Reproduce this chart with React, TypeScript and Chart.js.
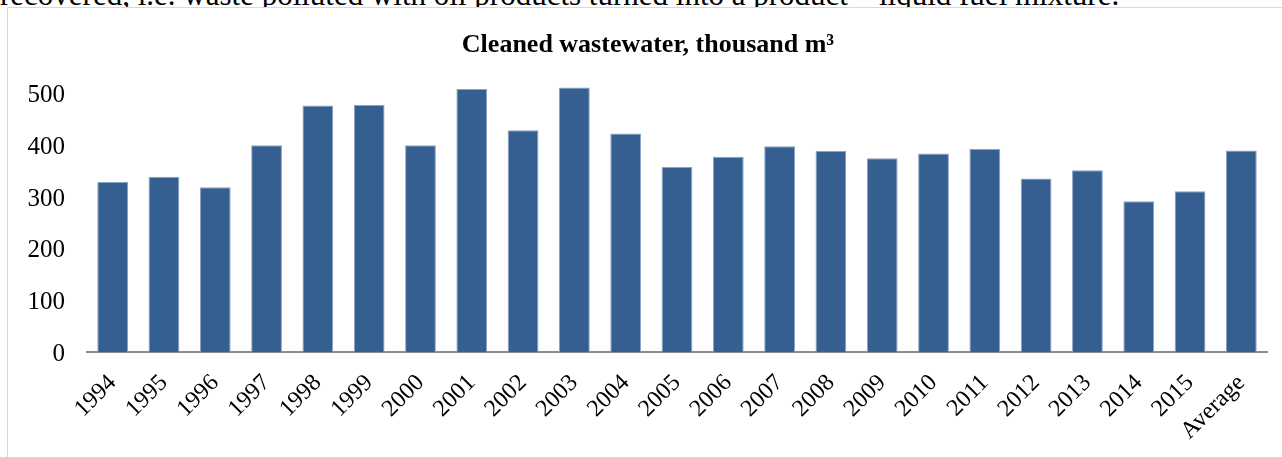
import React, { useEffect, useRef } from "react";
import { Chart, registerables } from "chart.js";

Chart.register(...registerables);

const categories = [
  "1994", "1995", "1996", "1997", "1998", "1999", "2000", "2001", "2002", "2003", "2004",
  "2005", "2006", "2007", "2008", "2009", "2010", "2011", "2012", "2013", "2014", "2015", "Average",
];
const cleanedWastewater = [
  329, 339, 319, 400, 477, 478, 400, 509, 429, 512, 423,
  358, 378, 398, 389, 375, 384, 393, 336, 352, 292, 311, 390,
];
const yTicks = [0, 100, 200, 300, 400, 500];
const chartTitle = "Cleaned wastewater, thousand m³";
const precedingText =
  "recovered, i.e. waste polluted with oil products turned into a product – liquid fuel mixture.";

const SERIF = "'Liberation Serif', 'DejaVu Serif', serif";

export default function App() {
  const canvasRef = useRef<HTMLCanvasElement | null>(null);

  useEffect(() => {
    if (!canvasRef.current) return;
    const chart = new Chart(canvasRef.current, {
      type: "bar",
      data: {
        labels: categories,
        datasets: [
          {
            label: chartTitle,
            data: cleanedWastewater,
            backgroundColor: "#365f91",
            borderColor: "#8aa2c2",
            borderWidth: 1,
            barPercentage: 0.6,
            categoryPercentage: 1,
          },
        ],
      },
      options: {
        animation: false,
        responsive: false,
        maintainAspectRatio: false,
        layout: { padding: { left: 0, right: 21, top: 65, bottom: 0 } },
        plugins: {
          legend: { display: false },
          tooltip: { enabled: false },
          title: { display: false },
        },
        scales: {
          x: {
            grid: { display: false, drawTicks: false },
            border: { display: true, color: "#8c8c8c", width: 2 },
            ticks: {
              color: "#000",
              font: { family: SERIF, size: 24 },
              minRotation: 45,
              maxRotation: 45,
              autoSkip: false,
              padding: 17,
            },
            afterFit: (scale: any) => {
              scale.height = 105;
            },
          },
          y: {
            min: 0,
            max: 540,
            grid: { display: false, drawTicks: false },
            border: { display: false },
            ticks: {
              color: "#000",
              font: { family: SERIF, size: 25 },
              padding: 22,
              autoSkip: false,
              labelOffset: 2,
            },
            afterBuildTicks: (scale: any) => {
              scale.ticks = yTicks.map((v) => ({ value: v }));
            },
            afterFit: (scale: any) => {
              scale.width = 79;
            },
          },
        },
      },
    });
    return () => chart.destroy();
  }, []);

  return (
    <div
      style={{
        position: "fixed",
        left: 0,
        top: 0,
        width: 1282,
        height: 457,
        overflow: "hidden",
        background: "#fff",
      }}
    >
      <div
        style={{
          position: "absolute",
          left: 0,
          top: -23,
          whiteSpace: "nowrap",
          fontFamily: SERIF,
          fontSize: 31,
          lineHeight: "36px",
          color: "#000",
        }}
      >
        {precedingText}
      </div>
      <div
        style={{
          position: "absolute",
          left: 7,
          top: 7,
          width: 1290,
          height: 480,
          border: "1px solid #d9d9d9",
          background: "#fff",
        }}
      >
        <canvas ref={canvasRef} width={1280} height={449} style={{ display: "block" }} />
        <div
          style={{
            position: "absolute",
            left: 0,
            width: 1280,
            top: 21,
            textAlign: "center",
            fontFamily: SERIF,
            fontWeight: "bold",
            fontSize: 26,
            lineHeight: "30px",
            color: "#000",
            whiteSpace: "nowrap",
          }}
        >
          {chartTitle}
        </div>
      </div>
    </div>
  );
}
